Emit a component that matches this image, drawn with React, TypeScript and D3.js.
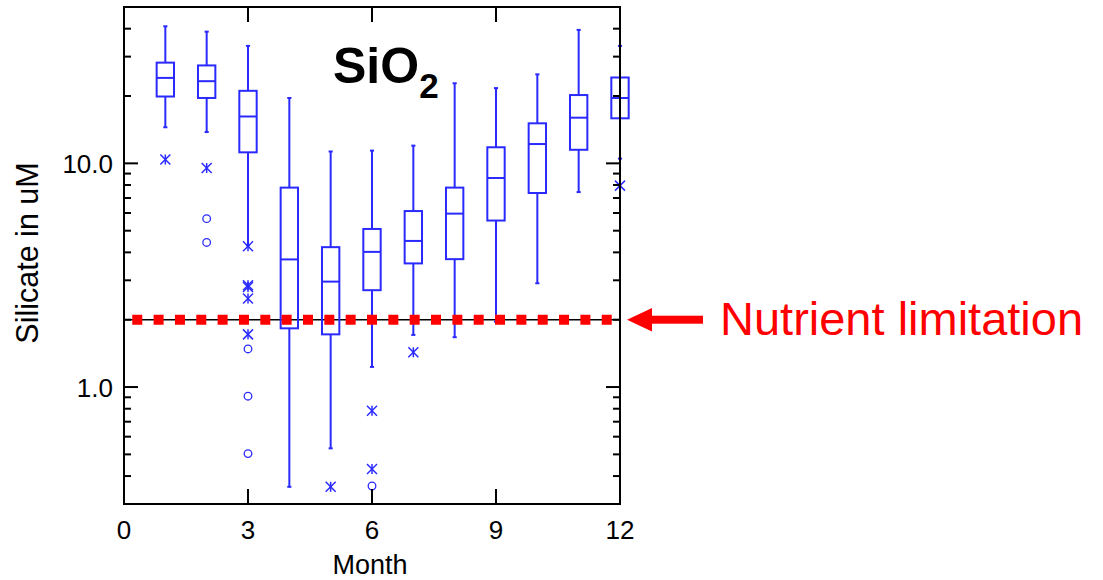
import React from 'react';
import * as d3 from 'd3';

// Monthly silicate statistics (uM)
const months = [1, 2, 3, 4, 5, 6, 7, 8, 9, 10, 11, 12];
const whiskerLow = [14.5, 13.8, 4.3, 0.358, 0.532, 1.23, 1.71, 1.67, 1.96, 2.91, 7.44, 10.5];
const q1 = [19.9, 19.6, 11.2, 1.83, 1.72, 2.71, 3.57, 3.73, 5.55, 7.37, 11.5, 15.9];
const medians = [24.1, 23.3, 16.2, 3.72, 2.96, 4.02, 4.5, 5.96, 8.6, 12.2, 16.0, 19.6];
const q3 = [28.2, 27.4, 21.1, 7.79, 4.22, 5.09, 6.12, 7.79, 11.8, 15.1, 20.2, 24.2];
const whiskerHigh = [41.0, 38.8, 33.5, 19.6, 11.3, 11.4, 12.0, 22.8, 21.7, 25.0, 39.5, 33.5];

// Outliers: [month, value]
const asteriskOutliers: [number, number][] = [
  [1, 10.4], [2, 9.53], [3, 4.26], [3, 2.85], [3, 2.8], [3, 2.49], [3, 1.72],
  [5, 0.358], [6, 0.784], [6, 0.43], [7, 1.43], [12, 7.95],
];
const circleOutliers: [number, number][] = [
  [2, 5.66], [2, 4.43], [3, 1.48], [3, 0.91], [3, 0.504], [6, 0.361],
];

const xTicks = [0, 3, 6, 9, 12];
const yMajorTicks = [1, 10];
const yMajorLabels = ['1.0', '10.0'];
const yMinorTicks = [0.4, 0.5, 0.6, 0.7, 0.8, 0.9, 2, 3, 4, 5, 6, 7, 8, 9, 20, 30, 40];
const limitValue = 2;

const FONT = '"Liberation Sans", Arial, Helvetica, sans-serif';
const BLUE = '#2a2aff';
const RED = '#ff0000';

export default function App() {
  const x = d3.scaleLinear().domain([0, 12]).range([124, 620]);
  const y = d3.scaleLog().domain([0.3, 50]).range([504, 7]);
  const boxW = x(0.42) - x(0);
  const capW = x(0.1) - x(0);

  const yLim = y(limitValue);
  const dashStart = x(0.2);
  const dashEnd = x(11.8);
  const dashLen = 10;
  const period = (dashEnd - dashStart - dashLen) / 22;

  const arrowTip = x(12) + 7;
  const headBack = arrowTip + 25;
  const shaftEnd = arrowTip + 76;

  return (
    <svg width={1103} height={580} style={{ position: 'absolute', left: 0, top: 0, background: '#fff' }}>
      <rect x={0} y={0} width={1103} height={580} fill="#fff" />

      {/* reference line at the limitation level */}
      <line x1={x(0)} x2={x(12)} y1={yLim} y2={yLim} stroke="#000" strokeWidth={1.5} />

      {/* box plots */}
      {months.map((m, i) => {
        const cx = x(m);
        return (
          <g key={m} stroke={BLUE} strokeWidth={2} fill="none">
            <line x1={cx} x2={cx} y1={y(whiskerHigh[i])} y2={y(q3[i])} />
            <line x1={cx} x2={cx} y1={y(q1[i])} y2={y(whiskerLow[i])} />
            <line x1={cx - capW / 2} x2={cx + capW / 2} y1={y(whiskerHigh[i])} y2={y(whiskerHigh[i])} />
            <line x1={cx - capW / 2} x2={cx + capW / 2} y1={y(whiskerLow[i])} y2={y(whiskerLow[i])} />
            <rect x={cx - boxW / 2} y={y(q3[i])} width={boxW} height={y(q1[i]) - y(q3[i])} />
            <line x1={cx - boxW / 2} x2={cx + boxW / 2} y1={y(medians[i])} y2={y(medians[i])} />
          </g>
        );
      })}

      {/* outliers */}
      {asteriskOutliers.map(([m, v], i) => {
        const cx = x(m);
        const cy = y(v);
        const r = 5;
        return (
          <g key={'a' + i} stroke={BLUE} strokeWidth={1.5}>
            <line x1={cx - r} x2={cx + r} y1={cy - r} y2={cy + r} />
            <line x1={cx - r} x2={cx + r} y1={cy + r} y2={cy - r} />
            <line x1={cx} x2={cx} y1={cy - r} y2={cy + r} />
          </g>
        );
      })}
      {circleOutliers.map(([m, v], i) => (
        <circle key={'c' + i} cx={x(m)} cy={y(v)} r={3.8} fill="none" stroke={BLUE} strokeWidth={1.3} />
      ))}

      {/* dotted red limitation line */}
      <line
        x1={dashStart}
        x2={dashEnd}
        y1={yLim}
        y2={yLim}
        stroke={RED}
        strokeWidth={10}
        strokeDasharray={`${dashLen} ${period - dashLen}`}
      />

      {/* frame */}
      <rect x={x(0)} y={y(50)} width={x(12) - x(0)} height={y(0.3) - y(50)} fill="none" stroke="#000" strokeWidth={2} />

      {/* x ticks */}
      {xTicks.map((t) => (
        <g key={'xt' + t} stroke="#000" strokeWidth={2}>
          <line x1={x(t)} x2={x(t)} y1={y(0.3)} y2={y(0.3) - 15} />
          <line x1={x(t)} x2={x(t)} y1={y(50)} y2={y(50) + 15} />
        </g>
      ))}
      {xTicks.map((t) => (
        <text key={'xl' + t} x={x(t)} y={539} textAnchor="middle" fontFamily={FONT} fontSize={26} fill="#000">
          {t}
        </text>
      ))}

      {/* y ticks */}
      {yMajorTicks.map((t) => (
        <g key={'yM' + t} stroke="#000" strokeWidth={2}>
          <line x1={x(0)} x2={x(0) + 14} y1={y(t)} y2={y(t)} />
          <line x1={x(12)} x2={x(12) - 14} y1={y(t)} y2={y(t)} />
        </g>
      ))}
      {yMinorTicks.map((t) => (
        <g key={'ym' + t} stroke="#000" strokeWidth={2}>
          <line x1={x(0)} x2={x(0) + 7} y1={y(t)} y2={y(t)} />
          <line x1={x(12)} x2={x(12) - 7} y1={y(t)} y2={y(t)} />
        </g>
      ))}
      {yMajorTicks.map((t, i) => (
        <text key={'yl' + t} x={113} y={y(t) + 9.5} textAnchor="end" fontFamily={FONT} fontSize={26} fill="#000">
          {yMajorLabels[i]}
        </text>
      ))}

      {/* axis titles */}
      <text x={370} y={574} textAnchor="middle" fontFamily={FONT} fontSize={27} fill="#000">
        Month
      </text>
      <text
        transform={`translate(38, 253) rotate(-90)`}
        textAnchor="middle"
        fontFamily={FONT}
        fontSize={30.5}
        fill="#000"
      >
        Silicate in uM
      </text>

      {/* panel title */}
      <text x={333} y={83} fontFamily={FONT} fontSize={50} fontWeight="bold" fill="#000">
        SiO
        <tspan fontSize={35} dy={15}>2</tspan>
      </text>

      {/* annotation arrow */}
      <rect x={headBack - 1} y={yLim - 4} width={shaftEnd - headBack + 1} height={8} fill={RED} />
      <path d={`M${arrowTip},${yLim} L${headBack},${yLim - 11.7} L${headBack},${yLim + 11.7} Z`} fill={RED} />
      <text x={720} y={335} fontFamily={FONT} fontSize={47} fill={RED}>
        Nutrient limitation
      </text>
    </svg>
  );
}
